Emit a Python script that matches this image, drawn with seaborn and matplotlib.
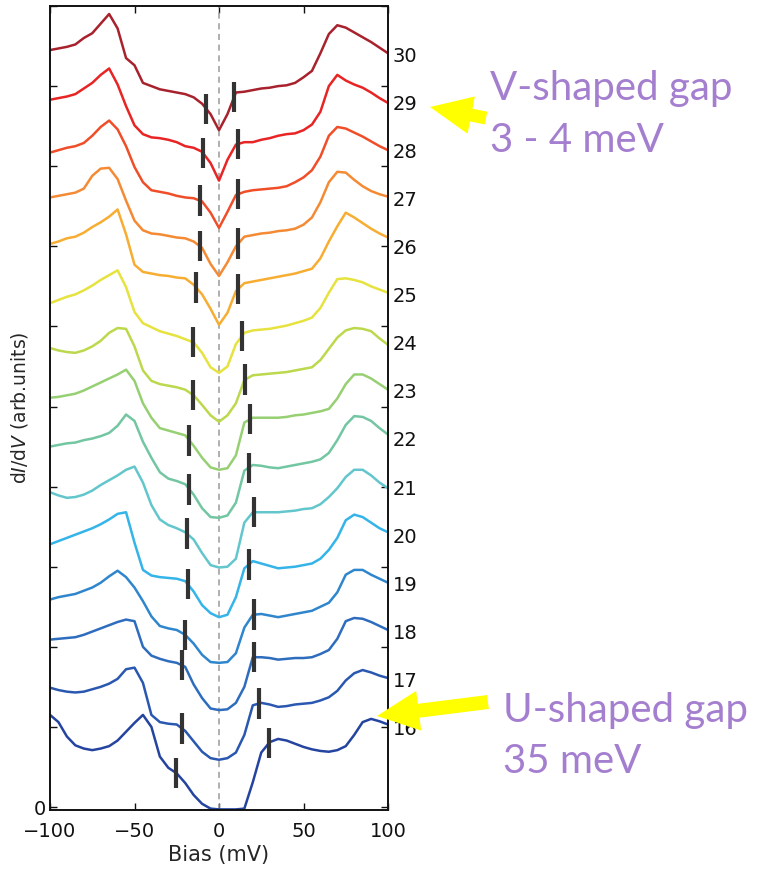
import numpy as np
import pandas as pd
import matplotlib
matplotlib.use("Agg")
import matplotlib.pyplot as plt
import matplotlib.transforms as mtransforms
from matplotlib.patches import FancyArrow
import seaborn as sns

# Bias grid (mV) shared by all tunneling spectra
bias = np.arange(-100, 101, 5)

# dI/dV spectra (arb. units) per layer, before vertical offset
s16 = [1.15, 1.06, 0.88, 0.77, 0.73, 0.71, 0.73, 0.76, 0.83, 0.94, 1.05, 1.15, 1.00, 0.63, 0.49, 0.42, 0.30, 0.15, 0.04, -0.02,
       -0.03, -0.03, -0.03, -0.02, 0.31, 0.68, 0.81, 0.85, 0.83, 0.79, 0.75, 0.72, 0.70, 0.69, 0.71, 0.76, 0.90, 1.06, 1.10, 1.07, 1.03]
s17 = [0.89, 0.86, 0.84, 0.83, 0.84, 0.87, 0.90, 0.94, 1.00, 1.12, 1.14, 0.95, 0.55, 0.46, 0.44, 0.43, 0.35, 0.22, 0.09, 0.01,
       -0.01, 0.01, 0.08, 0.30, 0.67, 0.70, 0.68, 0.65, 0.66, 0.68, 0.69, 0.70, 0.73, 0.77, 0.85, 0.98, 1.07, 1.11, 1.08, 1.04, 1.01]
s18 = [0.89, 0.90, 0.91, 0.92, 0.95, 0.99, 1.03, 1.07, 1.11, 1.14, 1.12, 0.80, 0.69, 0.65, 0.62, 0.60, 0.55, 0.33, 0.16, 0.03,
       0.01, 0.02, 0.10, 0.30, 0.67, 0.67, 0.66, 0.64, 0.65, 0.66, 0.66, 0.67, 0.71, 0.76, 0.90, 1.12, 1.16, 1.15, 1.11, 1.06, 1.01]
s19 = [0.79, 0.82, 0.84, 0.86, 0.90, 0.94, 1.00, 1.08, 1.15, 1.07, 0.94, 0.77, 0.58, 0.46, 0.43, 0.41, 0.35, 0.24, 0.10, 0.01,
       0.00, 0.01, 0.12, 0.44, 0.60, 0.61, 0.59, 0.57, 0.59, 0.61, 0.63, 0.65, 0.70, 0.75, 0.88, 1.10, 1.16, 1.16, 1.10, 1.05, 1.00]
s20 = [0.88, 0.92, 0.96, 1.00, 1.04, 1.08, 1.13, 1.19, 1.26, 1.28, 0.90, 0.56, 0.49, 0.47, 0.46, 0.45, 0.42, 0.29, 0.12, 0.02,
       -0.03, 0.00, 0.22, 0.58, 0.67, 0.64, 0.61, 0.58, 0.59, 0.60, 0.62, 0.64, 0.70, 0.81, 0.96, 1.18, 1.25, 1.22, 1.15, 1.08, 1.03]
s21 = [0.93, 0.89, 0.86, 0.87, 0.90, 0.95, 1.02, 1.08, 1.14, 1.21, 1.25, 1.05, 0.77, 0.59, 0.52, 0.48, 0.43, 0.34, 0.17, 0.02,
       -0.01, 0.00, 0.10, 0.55, 0.68, 0.68, 0.68, 0.68, 0.69, 0.70, 0.72, 0.73, 0.78, 0.87, 0.98, 1.12, 1.21, 1.21, 1.14, 1.05, 0.98]
s22 = [0.90, 0.92, 0.94, 0.95, 0.98, 1.00, 1.03, 1.07, 1.16, 1.30, 1.22, 0.96, 0.76, 0.58, 0.50, 0.47, 0.43, 0.30, 0.13, 0.02,
       0.01, 0.04, 0.20, 0.60, 0.67, 0.66, 0.64, 0.63, 0.65, 0.67, 0.69, 0.71, 0.74, 0.82, 0.98, 1.17, 1.28, 1.27, 1.22, 1.13, 1.05]
s23 = [0.91, 0.92, 0.94, 0.96, 1.00, 1.05, 1.10, 1.15, 1.20, 1.26, 1.12, 0.84, 0.66, 0.53, 0.50, 0.47, 0.44, 0.31, 0.16, 0.04,
       0.01, 0.03, 0.19, 0.60, 0.66, 0.66, 0.66, 0.66, 0.67, 0.69, 0.70, 0.72, 0.74, 0.77, 0.90, 1.08, 1.20, 1.20, 1.15, 1.08, 1.01]
s24 = [0.93, 0.90, 0.88, 0.87, 0.90, 0.95, 1.02, 1.12, 1.18, 1.17, 0.95, 0.65, 0.52, 0.48, 0.46, 0.44, 0.41, 0.34, 0.22, 0.09,
       0.01, 0.09, 0.24, 0.53, 0.59, 0.60, 0.61, 0.62, 0.63, 0.65, 0.67, 0.69, 0.78, 0.92, 1.06, 1.15, 1.18, 1.17, 1.14, 1.05, 0.97]
s25 = [0.89, 0.93, 0.97, 1.00, 1.05, 1.11, 1.18, 1.24, 1.30, 1.09, 0.78, 0.64, 0.59, 0.54, 0.51, 0.48, 0.44, 0.40, 0.27, 0.09,
       0.02, 0.10, 0.38, 0.52, 0.55, 0.56, 0.57, 0.59, 0.61, 0.64, 0.67, 0.71, 0.83, 1.02, 1.19, 1.20, 1.18, 1.15, 1.10, 1.06, 1.02]
s26 = [1.03, 1.06, 1.10, 1.12, 1.17, 1.24, 1.30, 1.37, 1.46, 1.15, 0.77, 0.68, 0.66, 0.64, 0.63, 0.61, 0.60, 0.52, 0.40, 0.22,
       0.02, 0.17, 0.44, 0.54, 0.56, 0.58, 0.60, 0.62, 0.64, 0.66, 0.69, 0.72, 0.85, 1.06, 1.25, 1.42, 1.36, 1.29, 1.22, 1.16, 1.11]
s27 = [1.01, 1.03, 1.05, 1.07, 1.12, 1.28, 1.37, 1.38, 1.24, 0.97, 0.72, 0.60, 0.56, 0.55, 0.53, 0.51, 0.50, 0.46, 0.38, 0.18,
       0.03, 0.20, 0.40, 0.52, 0.54, 0.56, 0.57, 0.59, 0.60, 0.62, 0.67, 0.76, 0.95, 1.20, 1.33, 1.32, 1.23, 1.15, 1.09, 1.05, 1.02]
s28 = [0.97, 1.00, 1.03, 1.05, 1.09, 1.18, 1.29, 1.37, 1.26, 1.05, 0.79, 0.60, 0.50, 0.48, 0.46, 0.43, 0.41, 0.40, 0.36, 0.22,
       0.03, 0.23, 0.44, 0.48, 0.50, 0.51, 0.52, 0.53, 0.55, 0.60, 0.66, 0.75, 0.92, 1.18, 1.29, 1.27, 1.22, 1.17, 1.11, 1.05, 1.00]
s29 = [1.03, 1.05, 1.07, 1.10, 1.17, 1.24, 1.34, 1.42, 1.22, 0.95, 0.71, 0.60, 0.56, 0.55, 0.53, 0.50, 0.45, 0.43, 0.38, 0.24,
       0.02, 0.28, 0.47, 0.50, 0.50, 0.53, 0.55, 0.58, 0.60, 0.61, 0.65, 0.72, 0.88, 1.20, 1.34, 1.27, 1.22, 1.18, 1.12, 1.05, 0.99]
s30 = [1.05, 1.07, 1.09, 1.12, 1.20, 1.26, 1.38, 1.50, 1.32, 0.95, 0.86, 0.64, 0.60, 0.56, 0.54, 0.52, 0.50, 0.46, 0.38, 0.25,
       0.05, 0.25, 0.52, 0.53, 0.55, 0.57, 0.58, 0.60, 0.61, 0.64, 0.71, 0.79, 1.01, 1.25, 1.36, 1.33, 1.27, 1.21, 1.15, 1.08, 1.01]

layers = [16, 17, 18, 19, 20, 21, 22, 23, 24, 25, 26, 27, 28, 29, 30]
spectra = [s16, s17, s18, s19, s20, s21, s22, s23, s24, s25, s26, s27, s28, s29, s30]
colors = ["#2444a0", "#2a58b0", "#2e6cbe", "#2f86cc", "#34b4e8", "#62c6cc", "#72c6a2", "#96d072",
          "#bcd84c", "#e6e23e", "#f7ad32", "#f48a34", "#f04e28", "#e82424", "#a8222e"]

# Gap edges (mV) marked on each spectrum
gap_left = [-25.5, -22.0, -22.0, -20.0, -18.5, -19.0, -17.5, -17.5, -15.5, -15.5, -13.5, -11.5, -11.5, -9.5, -7.5]
gap_right = [29.5, 23.5, 20.5, 20.5, 17.5, 20.5, 17.5, 18.5, 15.5, 13.5, 11.5, 11.5, 11.5, 11.0, 9.0]

offset_step = 0.6

sns.set_theme(style="ticks")
plt.rcParams["font.family"] = ["DejaVu Sans"]

W, H = 757, 876
fig = plt.figure(figsize=(W / 100, H / 100), dpi=100)
ax = fig.add_axes([50 / W, (H - 809.5) / H, 338 / W, (809.5 - 6) / H])

rows = []
for i, (lay, spec) in enumerate(zip(layers, spectra)):
    for b, v in zip(bias, spec):
        rows.append((b, v + i * offset_step, str(lay)))
df = pd.DataFrame(rows, columns=["bias", "didv", "layer"])

ax.axvline(0, color="#9a9a9a", lw=1.1, ls=(0, (4, 3)), zorder=1)

sns.lineplot(data=df, x="bias", y="didv", hue="layer",
             hue_order=[str(l) for l in layers],
             palette={str(l): c for l, c in zip(layers, colors)},
             estimator=None, sort=False, legend=False, lw=1.8, ax=ax, zorder=2)

# gap-edge markers sitting on each curve
half = 0.19
for i, spec in enumerate(spectra):
    y = np.asarray(spec) + i * offset_step
    for g in (gap_left[i], gap_right[i]):
        yc = np.interp(g, bias, y)
        ax.vlines(g, yc - half, yc + half, color="#333333", lw=3, zorder=3)

# layer numbers beside the right spine
trans = mtransforms.blended_transform_factory(ax.transAxes, ax.transData)
for i, lay in enumerate(layers):
    ax.text(1.013, i * offset_step + 0.97, str(lay), transform=trans,
            ha="left", va="center", fontsize=14, color="#111111", clip_on=False)

ax.set_xlim(-100, 100)
ax.set_ylim(-0.031, 10.0)
ax.set_xticks([-100, -50, 0, 50, 100])
ax.set_yticks(range(11))
ax.set_yticklabels(["0"] + [""] * 10)
ax.tick_params(direction="in", top=True, right=True, length=5, width=1.0,
               labelsize=14, colors="#111111")
ax.tick_params(axis="x", pad=9)
ax.tick_params(axis="y", pad=3)
for sp in ax.spines.values():
    sp.set_linewidth(1.4)
    sp.set_color("#111111")

ax.set_xlabel("Bias (mV)", fontsize=15, labelpad=3)
ax.set_ylabel("d$I$/d$V$ (arb.units)", fontsize=13.5)
ax.yaxis.set_label_coords(-0.06, 0.5)

# callouts
purple = "#a57fcf"
def px(x, y):
    return x / W, 1 - y / H

for (x, y), txt in [((490, 100), "V-shaped gap"), ((490, 152), "3 - 4 meV"),
                    ((503, 722), "U-shaped gap"), ((503, 773), "35 meV")]:
    fx, fy = px(x, y)
    fig.text(fx, fy, txt, fontsize=29, family="Lato", color=purple,
             ha="left", va="baseline")

def arrow(x0, y0, x1, y1, w, hw, hl):
    a = FancyArrow(x0 / 100, (H - y0) / 100, (x1 - x0) / 100, -(y1 - y0) / 100,
                   width=w / 100, head_width=hw / 100, head_length=hl / 100,
                   length_includes_head=True, color="#ffff00", lw=0,
                   transform=fig.dpi_scale_trans)
    fig.add_artist(a)

arrow(486, 118, 430, 107, 13, 38, 42)
arrow(488, 702, 377, 716, 14, 40, 42)

fig.savefig("out.png", dpi=100)
